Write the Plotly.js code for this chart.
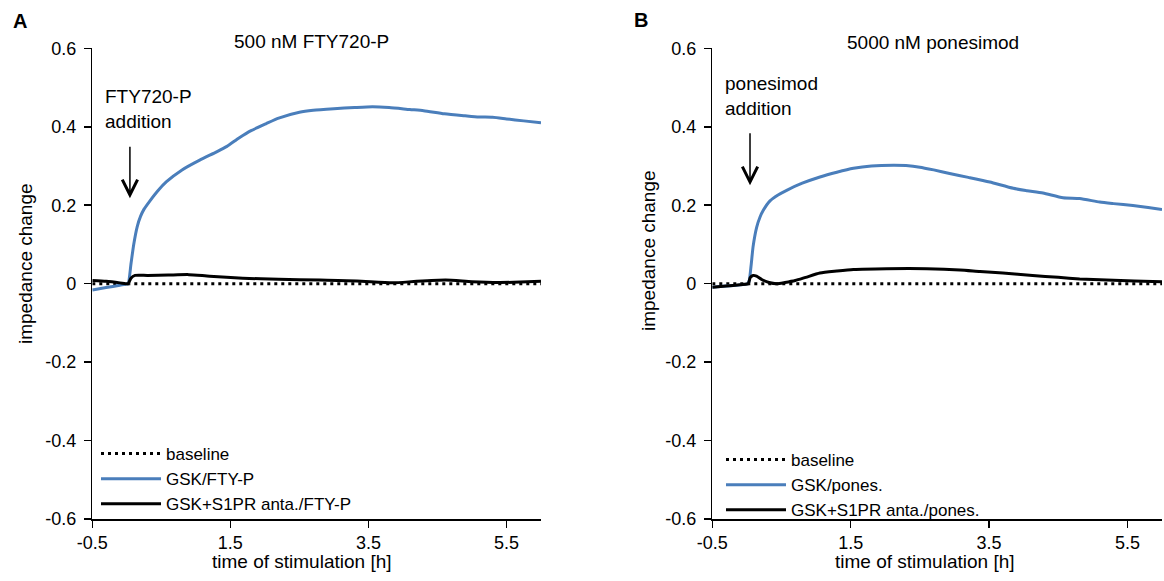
<!DOCTYPE html>
<html><head><meta charset="utf-8">
<script src="https://cdn.plot.ly/plotly-3.0.1.min.js"></script>
<style>html,body{margin:0;padding:0;background:#fff}#chart{width:1164px;height:581px}</style>
</head><body><div id="chart"></div>
<script>
// ---- Panel A: 500 nM FTY720-P ----
const ftyBlueT = [-0.5,-0.3,-0.1,0.0,0.02,0.06,0.1,0.15,0.2,0.25,0.33,0.45,0.575,0.8,1.056,1.3,1.45,1.63,1.8,2.02,2.2,2.5,2.7,3.0,3.3,3.56,3.8,4.1,4.3,4.6,4.9,5.1,5.3,5.5,5.75,6.0];
const ftyBlueV = [-0.016,-0.010,-0.004,-0.001,0.0,0.05,0.10,0.145,0.172,0.19,0.21,0.237,0.26,0.29,0.315,0.336,0.35,0.372,0.39,0.408,0.422,0.437,0.442,0.446,0.449,0.451,0.449,0.444,0.441,0.433,0.428,0.425,0.424,0.42,0.415,0.41];
const ftyBlackT = [-0.5,-0.3,-0.1,-0.02,0.02,0.06,0.12,0.3,0.6,0.9,1.2,1.68,2.2,2.8,3.33,3.85,4.2,4.62,5.0,5.39,5.7,6.0];
const ftyBlackV = [0.008,0.006,0.002,0.0,0.0,0.014,0.021,0.021,0.022,0.023,0.019,0.014,0.011,0.009,0.007,0.002,0.006,0.009,0.005,0.003,0.004,0.006];
// ---- Panel B: 5000 nM ponesimod ----
const ponBlueT = [-0.5,-0.2,0.0,0.03,0.06,0.09,0.14,0.19,0.237,0.334,0.45,0.575,0.8,1.056,1.3,1.54,1.8,2.12,2.3,2.5,2.7,2.93,3.2,3.51,3.85,4.05,4.28,4.57,4.81,5.1,5.3,5.58,5.8,6.0];
const ponBlueV = [-0.009,-0.005,-0.001,0.005,0.045,0.095,0.143,0.17,0.187,0.211,0.226,0.238,0.256,0.272,0.284,0.294,0.3,0.302,0.301,0.297,0.29,0.281,0.271,0.259,0.243,0.237,0.231,0.219,0.217,0.208,0.204,0.199,0.194,0.189];
const ponBlackT = [-0.5,-0.3,-0.1,0.0,0.02,0.05,0.09,0.14,0.22,0.32,0.43,0.55,0.7,0.85,1.056,1.3,1.54,2.02,2.6,3.08,3.37,3.7,4.13,4.5,4.81,5.2,5.6,6.0];
const ponBlackV = [-0.009,-0.006,-0.003,-0.001,0.0,0.016,0.021,0.019,0.01,0.003,0.0,0.003,0.008,0.016,0.027,0.032,0.036,0.038,0.038,0.035,0.031,0.027,0.021,0.016,0.012,0.009,0.007,0.005];
// baseline
const baseT = [-0.5, 6.0];
const baseV = [0, 0];
// axes
const xTickVals = [-0.5, 1.5, 3.5, 5.5];
const xTickText = ['-0.5', '1.5', '3.5', '5.5'];
const yTickVals = [-0.6, -0.4, -0.2, 0, 0.2, 0.4, 0.6];
const yTickText = ['-0.6', '-0.4', '-0.2', '0', '0.2', '0.4', '0.6'];
const namesA = ['baseline', 'GSK/FTY-P', 'GSK+S1PR anta./FTY-P'];
const namesB = ['baseline', 'GSK/pones.', 'GSK+S1PR anta./pones.'];

const FONT = 'Liberation Sans, Arial, Helvetica, sans-serif';
const BLUE = '#4a7ebb';
const W = 1164, H = 581;
const px = v => v / W, py = v => 1 - v / H;

const traces = [
  {x: baseT, y: baseV, name: namesA[0], xaxis: 'x', yaxis: 'y', mode: 'lines', line: {color: '#000', width: 3, dash: '3px,4px'}, legend: 'legend'},
  {x: ftyBlueT, y: ftyBlueV, name: namesA[1], xaxis: 'x', yaxis: 'y', mode: 'lines', line: {color: BLUE, width: 3, shape: 'spline', smoothing: 0.6}, legend: 'legend'},
  {x: ftyBlackT, y: ftyBlackV, name: namesA[2], xaxis: 'x', yaxis: 'y', mode: 'lines', line: {color: '#000', width: 3, shape: 'spline', smoothing: 0.6}, legend: 'legend'},
  {x: baseT, y: baseV, name: namesB[0], xaxis: 'x2', yaxis: 'y2', mode: 'lines', line: {color: '#000', width: 3, dash: '3px,4px'}, legend: 'legend2'},
  {x: ponBlueT, y: ponBlueV, name: namesB[1], xaxis: 'x2', yaxis: 'y2', mode: 'lines', line: {color: BLUE, width: 3, shape: 'spline', smoothing: 0.6}, legend: 'legend2'},
  {x: ponBlackT, y: ponBlackV, name: namesB[2], xaxis: 'x2', yaxis: 'y2', mode: 'lines', line: {color: '#000', width: 3, shape: 'spline', smoothing: 0.6}, legend: 'legend2'}
];

function xAxis(domain, anchor) {
  return {domain: domain, anchor: anchor, range: [-0.5, 6.0], tickmode: 'array', tickvals: xTickVals, ticktext: xTickText,
    showline: true, linecolor: '#000', linewidth: 1.5, ticks: 'outside', ticklen: 7, tickwidth: 1.5, tickcolor: '#000',
    showgrid: false, zeroline: false, tickfont: {family: FONT, size: 18, color: '#000'}, fixedrange: true};
}
function yAxis(anchor) {
  return {domain: [py(519), py(48.3)], anchor: anchor, range: [-0.6, 0.6], tickmode: 'array', tickvals: yTickVals, ticktext: yTickText,
    showline: true, linecolor: '#000', linewidth: 1.5, ticks: 'outside', ticklen: 7, tickwidth: 1.5, tickcolor: '#000',
    showgrid: false, zeroline: false, tickfont: {family: FONT, size: 18, color: '#000'}, ticklabelstandoff: 4, fixedrange: true};
}
const txt = (size, bold) => ({family: FONT, size: size, color: '#000', weight: bold ? 'bold' : 'normal'});
const C = {xref: 'paper', yref: 'paper', xanchor: 'center', yanchor: 'middle', showarrow: false};
const annotations = [
  Object.assign({}, C, {x: px(19.5), y: py(21), text: '<b>A</b>', font: txt(20, true)}),
  Object.assign({}, C, {x: px(640.5), y: py(20), text: '<b>B</b>', font: txt(20, true)}),
  Object.assign({}, C, {x: px(311.7), y: py(41.7), text: '500 nM FTY720-P', font: txt(19)}),
  Object.assign({}, C, {x: px(933), y: py(42), text: '5000 nM ponesimod', font: txt(19)}),
  Object.assign({}, C, {x: px(25), y: py(264), text: 'impedance change', textangle: -90, font: txt(19)}),
  Object.assign({}, C, {x: px(648), y: py(251), text: 'impedance change', textangle: -90, font: txt(19)}),
  Object.assign({}, C, {x: px(302), y: py(561.7), text: 'time of stimulation [h]', font: txt(19)}),
  Object.assign({}, C, {x: px(925), y: py(561.7), text: 'time of stimulation [h]', font: txt(19)}),
  Object.assign({}, C, {x: px(103), y: py(109), xanchor: 'left', align: 'left', text: 'FTY720-P<br>addition', font: txt(19)}),
  Object.assign({}, C, {x: px(723), y: py(96), xanchor: 'left', align: 'left', text: 'ponesimod<br>addition', font: txt(19)}),
  {xref: 'x', yref: 'y', axref: 'x', ayref: 'y', x: 0.045, y: 0.218, ax: 0.045, ay: 0.353, text: '', showarrow: true, arrowhead: 5, arrowsize: 2, arrowwidth: 1.5, arrowcolor: '#000'},
  {xref: 'x2', yref: 'y2', axref: 'x2', ayref: 'y2', x: 0.045, y: 0.251, ax: 0.045, ay: 0.387, text: '', showarrow: true, arrowhead: 5, arrowsize: 2, arrowwidth: 1.5, arrowcolor: '#000'}
];
const legendStyle = (x, y) => ({x: x, y: y, xref: 'paper', yref: 'paper', xanchor: 'left', yanchor: 'top', bgcolor: 'rgba(0,0,0,0)',
  font: {family: FONT, size: 17, color: '#000'}, itemwidth: 60, tracegroupgap: 0, itemclick: false, itemdoubleclick: false});
const layout = {
  width: W, height: H, margin: {l: 0, r: 0, t: 0, b: 0}, paper_bgcolor: '#fff', plot_bgcolor: '#fff', showlegend: true,
  xaxis: xAxis([px(92.3), px(541)], 'y'), yaxis: yAxis('x'),
  xaxis2: xAxis([px(712.3), px(1162)], 'y2'), yaxis2: yAxis('x2'),
  legend: legendStyle(px(96), py(436)),
  legend2: legendStyle(px(721), py(442)),
  annotations: annotations
};
Plotly.newPlot('chart', traces, layout, {displayModeBar: false, staticPlot: true});
</script></body></html>
